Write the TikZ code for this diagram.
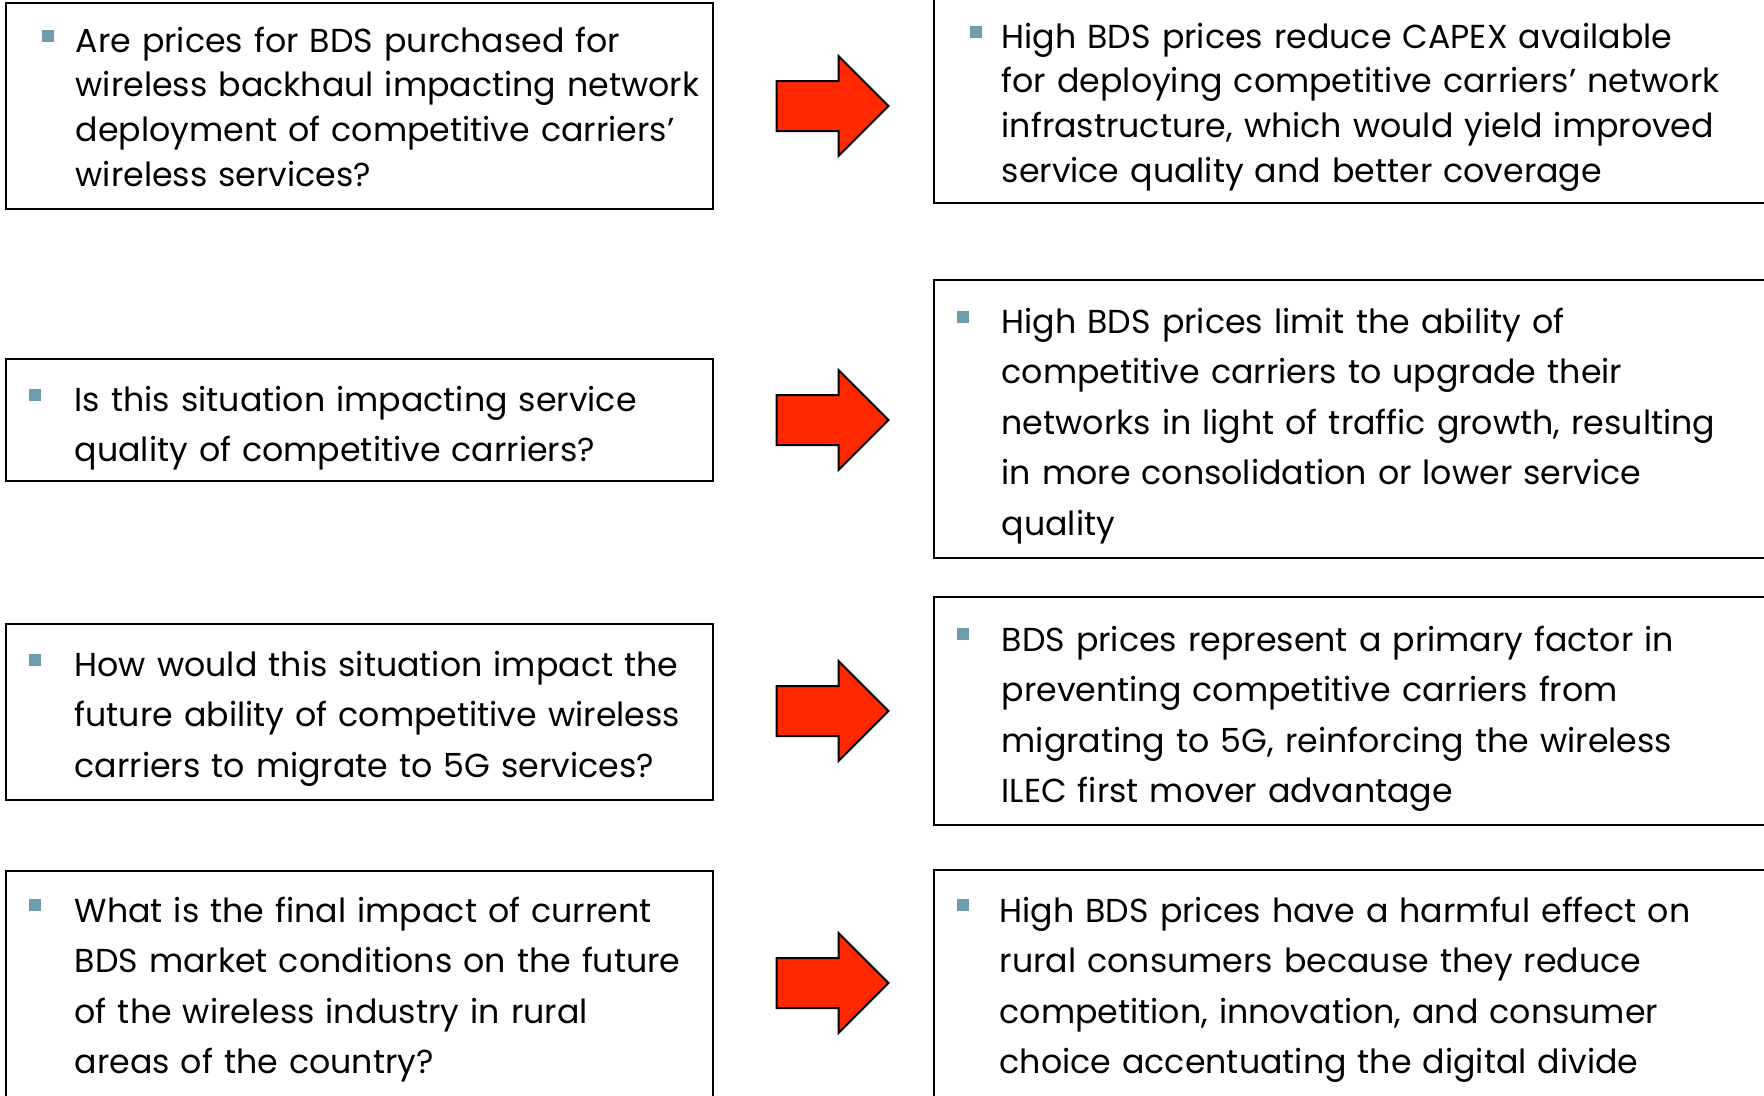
\documentclass[tikz,border=0pt]{standalone}
\usepackage{fontspec}
\setmainfont{Poppins}
\usetikzlibrary{shapes.arrows,positioning}
\definecolor{arrowred}{RGB}{255,40,0}
\definecolor{bulletblue}{RGB}{111,157,174}
\tikzset{
  qbox/.style={draw=black,line width=0.2mm,inner sep=0pt},
  txt/.style={anchor=base west,inner sep=0pt,align=left,text width=80mm,
    font=\fontsize{9.45pt}{14.37pt}\selectfont},
  tight/.style={font=\fontsize{9.45pt}{12.8pt}\selectfont},
  bul/.style={fill=bulletblue,minimum size=1.2mm,inner sep=0pt},
  fatarrow/.style={single arrow,draw=black,fill=arrowred,line width=0.2mm,
    minimum height=11.2mm,minimum width=9.8mm,single arrow head extend=2.5mm,
    single arrow tip angle=90,inner xsep=0pt,inner ysep=2.4mm}
}
\begin{document}
\begin{tikzpicture}[x=0.1mm,y=-0.1mm]
\useasboundingbox (0,0) rectangle (1764,1095);
\clip (0,0) rectangle (1764,1095);
% question boxes
\node[qbox,minimum width=70.74mm,minimum height=20.56mm] (q1) at (359.3,106.2) {};
\node[qbox,minimum width=70.74mm,minimum height=12.25mm] (q2) at (359.3,420.2) {};
\node[qbox,minimum width=70.74mm,minimum height=17.6mm] (q3) at (359.3,712) {};
\node[qbox,minimum width=70.74mm,minimum height=23.9mm] (q4) at (359.3,990.5) {};
% answer boxes
\node[qbox,minimum width=84.6mm,minimum height=22.3mm] (r1) at (1357,91.5) {};
\node[qbox,minimum width=84.6mm,minimum height=27.8mm] (r2) at (1357,419) {};
\node[qbox,minimum width=84.6mm,minimum height=22.8mm] (r3) at (1357,711) {};
\node[qbox,minimum width=84.6mm,minimum height=24mm] (r4) at (1357,990) {};
% arrows
\foreach \i/\y in {1/106,2/420,3/711,4/983}
  \node[fatarrow] (a\i) at (820,\y) {};
% bullets
\foreach \n/\x/\y in {bq1/47.5/35.5,bq2/35/395,bq3/35/660,bq4/35/905,
                      br1/976/32,br2/963/317,br3/963/634,br4/963/905}
  \node[bul] (\n) at (\x,\y) {};
% texts
\node[txt,tight] (tq1) at (75,52) {Are prices for BDS purchased for\\wireless backhaul impacting network\\deployment of competitive carriers’\\wireless services?};
\node[txt] (tq2) at (74,411) {Is this situation impacting service\\quality of competitive carriers?};
\node[txt] (tq3) at (74,676) {How would this situation impact the\\future ability of competitive wireless\\carriers to migrate to 5G services?};
\node[txt] (tq4) at (74,922) {What is the final impact of current\\BDS market conditions on the future\\of the wireless industry in rural\\areas of the country?};
\node[txt,tight] (tr1) at (1001,48) {High BDS prices reduce CAPEX available\\for deploying competitive carriers’ network\\infrastructure, which would yield improved\\service quality and better coverage};
\node[txt] (tr2) at (1001,333) {High BDS prices limit the ability of\\competitive carriers to upgrade their\\networks in light of traffic growth, resulting\\in more consolidation or lower service\\quality};
\node[txt] (tr3) at (1001,651) {BDS prices represent a primary factor in\\preventing competitive carriers from\\migrating to 5G, reinforcing the wireless\\ILEC first mover advantage};
\node[txt] (tr4) at (999,922) {High BDS prices have a harmful effect on\\rural consumers because they reduce\\competition, innovation, and consumer\\choice accentuating the digital divide};
\end{tikzpicture}
\end{document}
